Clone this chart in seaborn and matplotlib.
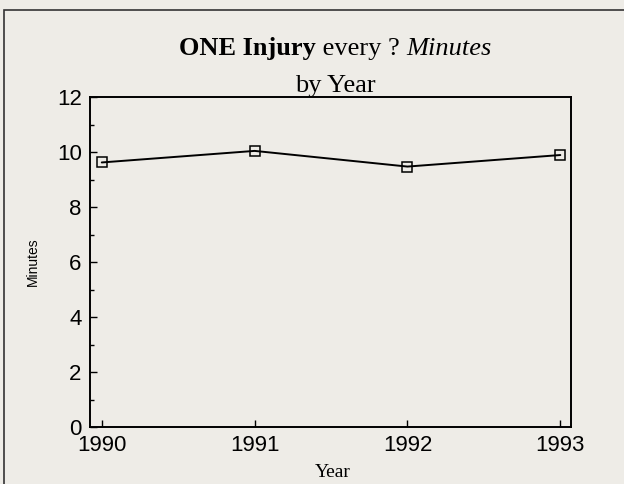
import matplotlib
matplotlib.use("Agg")
import matplotlib.pyplot as plt
import seaborn as sns
import pandas as pd
from matplotlib.ticker import MultipleLocator
from matplotlib.patches import Rectangle

years = [1990, 1991, 1992, 1993]
minutes = [9.62, 10.04, 9.47, 9.89]
yticks = [0, 2, 4, 6, 8, 10, 12]

bg = "#eeece7"
sns.set_theme(style="white")
plt.rcParams["font.family"] = ["Liberation Sans", "DejaVu Sans"]
plt.rcParams["text.color"] = "black"

fig = plt.figure(figsize=(6.24, 4.84), dpi=100, facecolor=bg)
ax = fig.add_axes([90/624, 1-427/484, (571-90)/624, (427-97)/484])
ax.set_facecolor(bg)

df = pd.DataFrame({"Year": years, "Minutes": minutes})
sns.lineplot(data=df, x="Year", y="Minutes", ax=ax, color="black", lw=1.4,
             marker="s", markersize=6.5, markerfacecolor="none",
             markeredgecolor="black", markeredgewidth=1.1)

ax.set_xlim(1989.923, 1993.07)
ax.set_ylim(0, 12)
ax.set_xticks(years)
ax.set_xticklabels([str(y) for y in years])
ax.set_yticks(yticks)
ax.yaxis.set_minor_locator(MultipleLocator(1))
ax.tick_params(axis="both", which="major", direction="in", length=5, width=1,
               labelsize=16, colors="black", bottom=True, left=True)
ax.tick_params(axis="y", which="major", pad=6)
ax.tick_params(axis="x", which="major", pad=6)
ax.tick_params(axis="y", which="minor", direction="in", length=3, width=1,
               left=True, colors="black")
for s in ax.spines.values():
    s.set_visible(True)
    s.set_color("black")
    s.set_linewidth(1.4)
ax.set_xlabel("")
ax.set_ylabel("")

# axis labels
fig.text(33/624, 1-262/484, "Minutes", rotation=90, ha="center", va="center",
         fontsize=10, family=["Liberation Sans"], color="black")
fig.text(333/624, 1-477/484, "Year", ha="center", va="baseline",
         fontsize=14, family=["Liberation Serif"], color="black")

# title with mixed styles
fig.canvas.draw()
r = fig.canvas.get_renderer()
pieces = [("ONE Injury", "bold", "normal"), (" every ? ", "normal", "normal"),
          ("Minutes", "normal", "italic")]
texts = []
for s, w, st in pieces:
    t = fig.text(0, 1-55/484, s, fontsize=19, fontweight=w, fontstyle=st,
                 family=["Liberation Serif"], va="baseline", ha="left",
                 color="black")
    texts.append(t)
widths = [t.get_window_extent(r).width for t in texts]
total = sum(widths)
x = 335 - total/2
for t, w in zip(texts, widths):
    t.set_x(x/624)
    x += w
fig.text(335/624, 1-92/484, "by Year", fontsize=19, family=["Liberation Serif"],
         va="baseline", ha="center", color="black")

# outer frame (top and left edges visible)
fig.patches.append(Rectangle((4/624, -0.1), 1.2, (1-10/484)+0.1,
                             transform=fig.transFigure, fill=False,
                             edgecolor="#333333", lw=1.2))

fig.savefig("out.png", dpi=100, facecolor=bg)
